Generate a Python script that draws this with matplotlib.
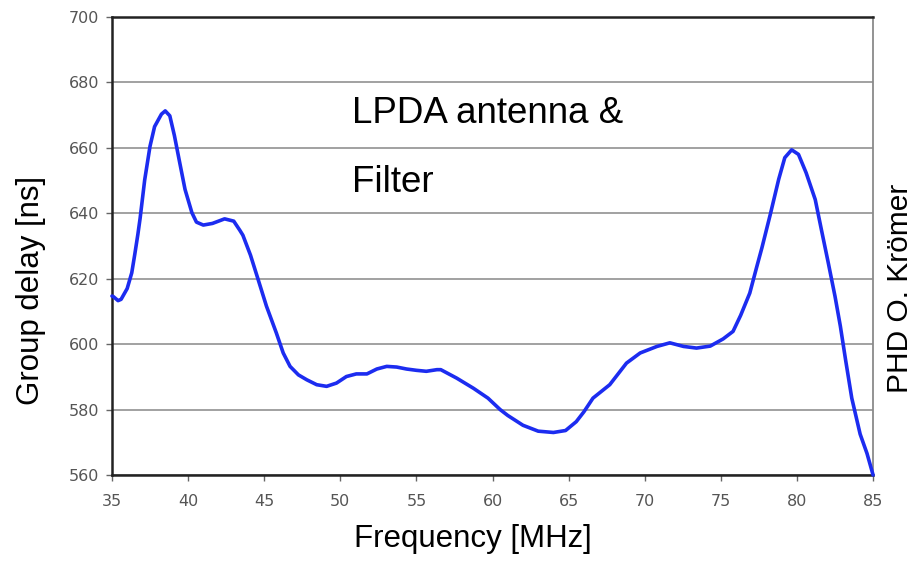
import numpy as np
import matplotlib.pyplot as plt

plt.rcParams['font.family'] = ['Liberation Sans', 'DejaVu Sans']

# group delay
freq = [35.0, 35.1, 35.4, 35.6, 36.0, 36.3, 36.5, 36.7, 36.85, 37.15, 37.5,
        37.8, 38.25, 38.5, 38.8, 39.1, 39.45, 39.8, 40.25, 40.55, 41.0, 41.6,
        42.4, 43.0, 43.4, 43.6, 44.1, 44.6, 45.15, 45.8, 46.25, 46.7, 47.25,
        47.8, 48.45, 49.1, 49.75, 50.4, 51.05, 51.75, 52.4, 53.05, 53.7, 54.35,
        55.0, 55.65, 56.35, 56.6, 57.65, 58.75, 59.7, 60.5, 61.0, 62.0, 63.0,
        64.0, 64.8, 65.5, 66.0, 66.6, 67.7, 68.8, 69.7, 70.8, 71.65, 72.55,
        73.4, 74.3, 75.15, 75.8, 76.3, 76.9, 77.35, 77.7, 78.25, 78.8, 79.2,
        79.65, 80.1, 80.6, 81.2, 81.6, 82.05, 82.5, 82.85, 83.2, 83.6, 84.15,
        84.6, 85.0]
delay = [614.7, 614.5, 613.3, 613.7, 617.0, 621.8, 627.5, 633.5, 638.5,
         650.2, 660.5, 666.5, 670.3, 671.3, 669.8, 663.8, 655.5, 647.3, 640.2,
         637.3, 636.4, 636.9, 638.3, 637.6, 634.8, 633.3, 627.2, 619.8, 611.6,
         603.4, 597.3, 593.2, 590.6, 589.1, 587.6, 587.1, 588.1, 590.1, 590.9,
         590.9, 592.4, 593.2, 593.0, 592.4, 592.0, 591.7, 592.2, 592.2, 589.6,
         586.5, 583.5, 580.0, 578.2, 575.2, 573.4, 573.0, 573.6, 576.3, 579.3,
         583.5, 587.6, 594.2, 597.3, 599.3, 600.4, 599.3, 598.8, 599.4, 601.6,
         603.9, 608.8, 615.6, 623.5, 629.5, 639.7, 650.4, 657.0, 659.4, 658.0,
         652.4, 644.2, 635.1, 625.0, 614.6, 605.5, 595.0, 583.5, 572.5, 566.6,
         560.0]

fig = plt.figure(figsize=(9.2, 5.63), dpi=100)
ax = fig.add_axes([0.1217, 0.1563, 0.949 - 0.1217, 0.9698 - 0.1563])

ax.plot(freq, delay, color='#1c2cf0', lw=2.6, solid_joinstyle='round',
        solid_capstyle='round', clip_on=False, zorder=3)

ax.set_xlim(35, 85)
ax.set_ylim(560, 700)
ax.set_xticks(np.arange(35, 86, 5))
ax.set_yticks(np.arange(560, 701, 20))
ax.grid(axis='y', color='#9a9a9a', lw=1.3)
ax.set_axisbelow(True)
ax.tick_params(colors='#666666', length=4, width=1, labelcolor='#555555')
for lab in ax.get_xticklabels() + ax.get_yticklabels():
    lab.set_fontfamily('DejaVu Sans')
    lab.set_fontsize(11.5)
ax.tick_params(axis='x', pad=10)
ax.tick_params(axis='y', pad=5)

for s in ['left', 'bottom', 'top']:
    ax.spines[s].set_color('#222222')
    ax.spines[s].set_linewidth(1.8)
ax.spines['right'].set_color('#8a8a8a')
ax.spines['right'].set_linewidth(1.3)

ax.text(0.315, 0.7686, 'LPDA antenna &', transform=ax.transAxes,
        fontsize=26.5, va='baseline')
ax.text(0.315, 0.618, 'Filter', transform=ax.transAxes,
        fontsize=26.5, va='baseline')
fig.text(0.514, 0.0284, 'Frequency [MHz]', fontsize=22.5, ha='center',
         va='baseline')
fig.text(0.0337, 0.485, 'Group delay [ns]', rotation=90, fontsize=22.5,
         ha='center', va='center')
fig.text(0.978, 0.488, 'PHD O. Krömer', rotation=90, fontsize=21.5,
         va='center', ha='center')

plt.savefig('out.png', dpi=100)
